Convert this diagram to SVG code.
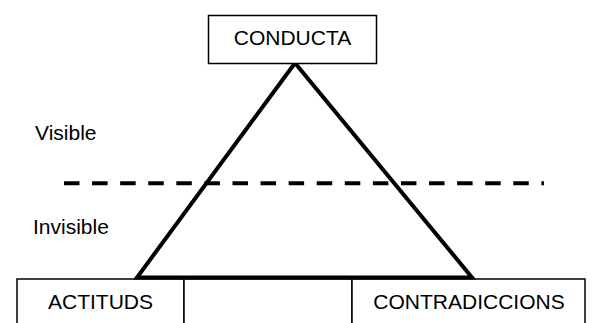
<svg xmlns="http://www.w3.org/2000/svg" width="593" height="323" viewBox="0 0 593 323">
<style>
.box{fill:#fff;stroke:#000;stroke-width:1.5}
.lbl{font-family:"Liberation Sans",Arial,sans-serif;font-size:21px;fill:#000}
.mid{text-anchor:middle}
</style>
<rect width="593" height="323" fill="#fff"/>
<g id="actituds">
<rect class="box" x="17" y="279" width="167" height="60"/>
<text class="lbl mid" x="100.5" y="308.5">ACTITUDS</text>
</g>
<g id="middle">
<rect class="box" x="184" y="279" width="168" height="60"/>
</g>
<g id="contradiccions">
<rect class="box" x="352" y="279" width="233" height="60"/>
<text class="lbl mid" x="469" y="308.5">CONTRADICCIONS</text>
</g>
<g id="connectors">
<polygon points="295,63 137,277.5 472,277.5" fill="none" stroke="#000" stroke-width="4" stroke-linejoin="miter"/>
<line x1="64" y1="183.3" x2="544" y2="183.3" stroke="#000" stroke-width="4" stroke-dasharray="15.5 12.58"/>
</g>
<g id="conducta">
<rect class="box" x="208.5" y="15.5" width="168" height="48"/>
<text class="lbl mid" x="292.5" y="45">CONDUCTA</text>
</g>
<g id="labels">
<text class="lbl" x="35" y="140">Visible</text>
<text class="lbl" x="33" y="234.3">Invisible</text>
</g>
</svg>
